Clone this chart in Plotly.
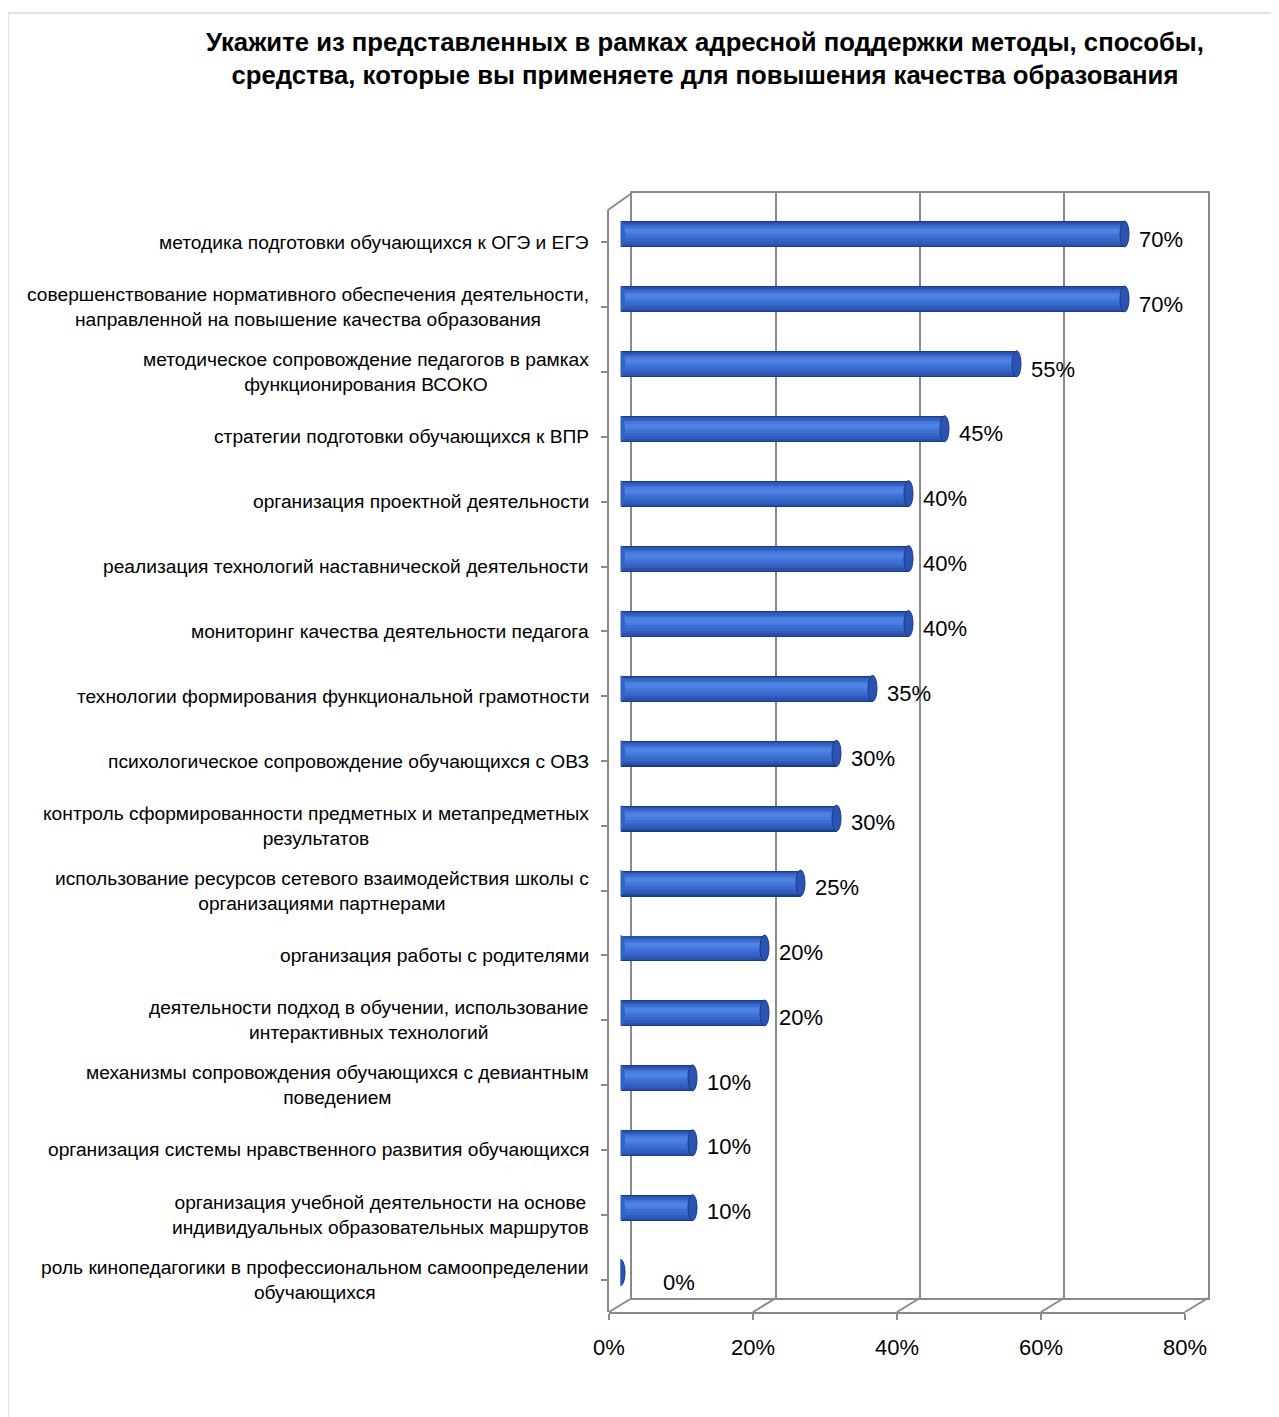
import plotly.graph_objects as go

W, H = 1279, 1417
PAGE_MARGIN = 8  # default body margin of the html page
FW, FH = W - PAGE_MARGIN, H - PAGE_MARGIN

categories = [
    "методика подготовки обучающихся к ОГЭ и ЕГЭ",
    "совершенствование нормативного обеспечения деятельности,<br>направленной на повышение качества образования",
    "методическое сопровождение педагогов в рамках<br>функционирования ВСОКО",
    "стратегии подготовки обучающихся к ВПР",
    "организация проектной деятельности",
    "реализация технологий наставнической деятельности",
    "мониторинг качества деятельности педагога",
    "технологии формирования функциональной грамотности",
    "психологическое сопровождение обучающихся с ОВЗ",
    "контроль сформированности предметных и метапредметных<br>результатов",
    "использование ресурсов сетевого взаимодействия школы с<br>организациями партнерами",
    "организация работы с родителями",
    "деятельности подход в обучении, использование<br>интерактивных технологий",
    "механизмы сопровождения обучающихся с девиантным<br>поведением",
    "организация системы нравственного развития обучающихся",
    "организация учебной деятельности на основе<br>индивидуальных образовательных маршрутов",
    "роль кинопедагогики в профессиональном самоопределении<br>обучающихся",
]
values = [0.70, 0.70, 0.55, 0.45, 0.40, 0.40, 0.40, 0.35, 0.30, 0.30,
          0.25, 0.20, 0.20, 0.10, 0.10, 0.10, 0.00]
x_ticks = [0, 0.2, 0.4, 0.6, 0.8]
x_tick_labels = ["0%", "20%", "40%", "60%", "80%"]
title_lines = [
    "Укажите из представленных в рамках адресной поддержки методы, способы,",
    "средства, которые вы применяете для повышения качества образования",
]

def px(x):
    return (x - PAGE_MARGIN) / FW

def py(y):
    return 1 - (y - PAGE_MARGIN) / FH

n = len(categories)
idx = list(range(n))
FONT = "Liberation Sans, Arial, sans-serif"
GRID = "#8a8a8a"

# depth geometry (pixels, page coordinates)
FRONT_X0, BACK_X0 = 609, 632
SPAN = 576
FRONT_TOP, FRONT_BOT = 210, 1312
BACK_TOP, BACK_BOT = 193, 1298
MID_X0 = (FRONT_X0 + BACK_X0) / 2
MID_TOP = (FRONT_TOP + BACK_TOP) / 2
MID_BOT = (FRONT_BOT + BACK_BOT) / 2

fig = go.Figure()

# subplot xy = back wall (drawn first), x2y2 = front axes, x3y3 = bars (on top)
fig.add_trace(go.Scatter(x=[None], y=[None], xaxis="x", yaxis="y",
                         showlegend=False, hoverinfo="skip"))
fig.add_trace(go.Scatter(x=[None], y=[None], xaxis="x2", yaxis="y2",
                         showlegend=False, hoverinfo="skip"))

# cylinder bars built from layered bands (offset, width, colour)
layers = [
    (-0.200, 0.400, "#1b3c8a"),
    (-0.185, 0.365, "#2950ad"),
    (-0.165, 0.310, "#305cbd"),
    (-0.145, 0.250, "#3767c9"),
    (-0.125, 0.185, "#3e70d4"),
    (-0.105, 0.120, "#467adc"),
    (-0.085, 0.065, "#4e83e2"),
]
for off, w, c in layers:
    fig.add_trace(go.Bar(
        x=values, y=idx, orientation="h", width=w, offset=off,
        marker=dict(color=c, line=dict(width=0)),
        xaxis="x3", yaxis="y3", showlegend=False, hoverinfo="skip",
    ))

# rounded ends of cylinders
shapes = []
cap_w = 4.5 * 0.8 / SPAN
for i, v in enumerate(values):
    shapes.append(dict(type="circle", xref="x3", yref="y3",
                       x0=-cap_w, x1=cap_w, y0=i - 0.2, y1=i + 0.2,
                       fillcolor="#3262c4", line=dict(width=0), layer="above"))
    shapes.append(dict(type="circle", xref="x3", yref="y3",
                       x0=v - cap_w, x1=v + cap_w, y0=i - 0.2, y1=i + 0.2,
                       fillcolor="#2b54b2", line=dict(color="#1a3a85", width=1),
                       layer="above"))

# floor diagonals and left wall top diagonal (frame)
for k in range(len(x_ticks)):
    shapes.append(dict(type="line", xref="paper", yref="paper",
                       x0=px(FRONT_X0 + k * SPAN / 4), y0=py(FRONT_BOT),
                       x1=px(BACK_X0 + k * SPAN / 4), y1=py(BACK_BOT),
                       line=dict(color=GRID, width=2), layer="below"))
shapes.append(dict(type="line", xref="paper", yref="paper",
                   x0=px(FRONT_X0 - 1), y0=py(FRONT_TOP),
                   x1=px(BACK_X0), y1=py(BACK_TOP),
                   line=dict(color=GRID, width=2), layer="below"))
# outer chart border
shapes.append(dict(type="rect", xref="paper", yref="paper",
                   x0=px(8), y0=py(13), x1=px(1300), y1=py(1440),
                   line=dict(color="#d9d9d9", width=1.5), layer="below"))

# data labels
annotations = []
for i, v in enumerate(values):
    annotations.append(dict(
        x=v, y=i, xref="x3", yref="y2", text=f"{round(v * 100)}%",
        showarrow=False, xanchor="left", yanchor="middle",
        xshift=12 if v > 0 else 40, yshift=3 if v > 0 else -3,
        font=dict(family=FONT, size=22, color="#000000"),
    ))

# category labels (centered multi-line)
for i, c in enumerate(categories):
    annotations.append(dict(
        x=px(591), y=i, xref="paper", yref="y2", text=c,
        showarrow=False, xanchor="right", yanchor="middle", align="center",
        font=dict(family=FONT, size=19.2, color="#000000"),
    ))

# title
annotations.append(dict(
    x=px(705), y=py(58), xref="paper", yref="paper",
    text="<b>" + "<br>".join(title_lines) + "</b>",
    showarrow=False, xanchor="center", yanchor="middle", align="center",
    font=dict(family=FONT, size=25.7, color="#000000"),
))

fig.update_layout(
    width=FW, height=FH,
    margin=dict(l=0, r=0, t=0, b=0, autoexpand=False),
    paper_bgcolor="white", plot_bgcolor="rgba(0,0,0,0)",
    barmode="overlay", bargap=0,
    showlegend=False,
    shapes=shapes, annotations=annotations,
    # back wall
    xaxis=dict(domain=[px(BACK_X0), px(BACK_X0 + SPAN)], range=[0, 0.8],
               anchor="y", tickvals=x_ticks, showticklabels=False,
               showgrid=True, gridcolor=GRID, gridwidth=2,
               showline=True, mirror=True, linecolor=GRID, linewidth=2,
               zeroline=False, ticks="", automargin=False, fixedrange=True),
    yaxis=dict(domain=[py(BACK_BOT), py(BACK_TOP)], range=[0, 1],
               anchor="x", showline=True, mirror=True, linecolor=GRID,
               linewidth=2, showgrid=False, zeroline=False,
               showticklabels=False, ticks="", automargin=False,
               fixedrange=True),
    # front axes
    xaxis2=dict(domain=[px(FRONT_X0), px(FRONT_X0 + SPAN)], range=[0, 0.8],
                anchor="y2", showline=True, linecolor=GRID, linewidth=2,
                ticks="outside", ticklen=6, tickwidth=2, tickcolor=GRID,
                tickvals=x_ticks, ticktext=x_tick_labels, showgrid=False,
                zeroline=False, automargin=False, fixedrange=True,
                tickfont=dict(family=FONT, size=22, color="#000000"),
                ticklabelstandoff=9),
    yaxis2=dict(domain=[py(FRONT_BOT), py(FRONT_TOP)], range=[n - 0.5, -0.5],
                anchor="free", position=px(FRONT_X0 - 1),
                tickvals=idx, ticktext=[""] * n, tickson="boundaries",
                showline=True, linecolor=GRID, linewidth=2,
                ticks="outside", ticklen=6, tickwidth=2, tickcolor=GRID,
                showgrid=False, zeroline=False, type="linear",
                automargin=False, fixedrange=True),
    # bars (middle depth)
    xaxis3=dict(domain=[px(MID_X0), px(MID_X0 + SPAN)], range=[0, 0.8],
                anchor="y3", visible=False, fixedrange=True, automargin=False),
    yaxis3=dict(domain=[py(MID_BOT), py(MID_TOP)], range=[n - 0.5, -0.5],
                anchor="x3", visible=False, fixedrange=True, automargin=False),
)

fig.write_html("out.html")
